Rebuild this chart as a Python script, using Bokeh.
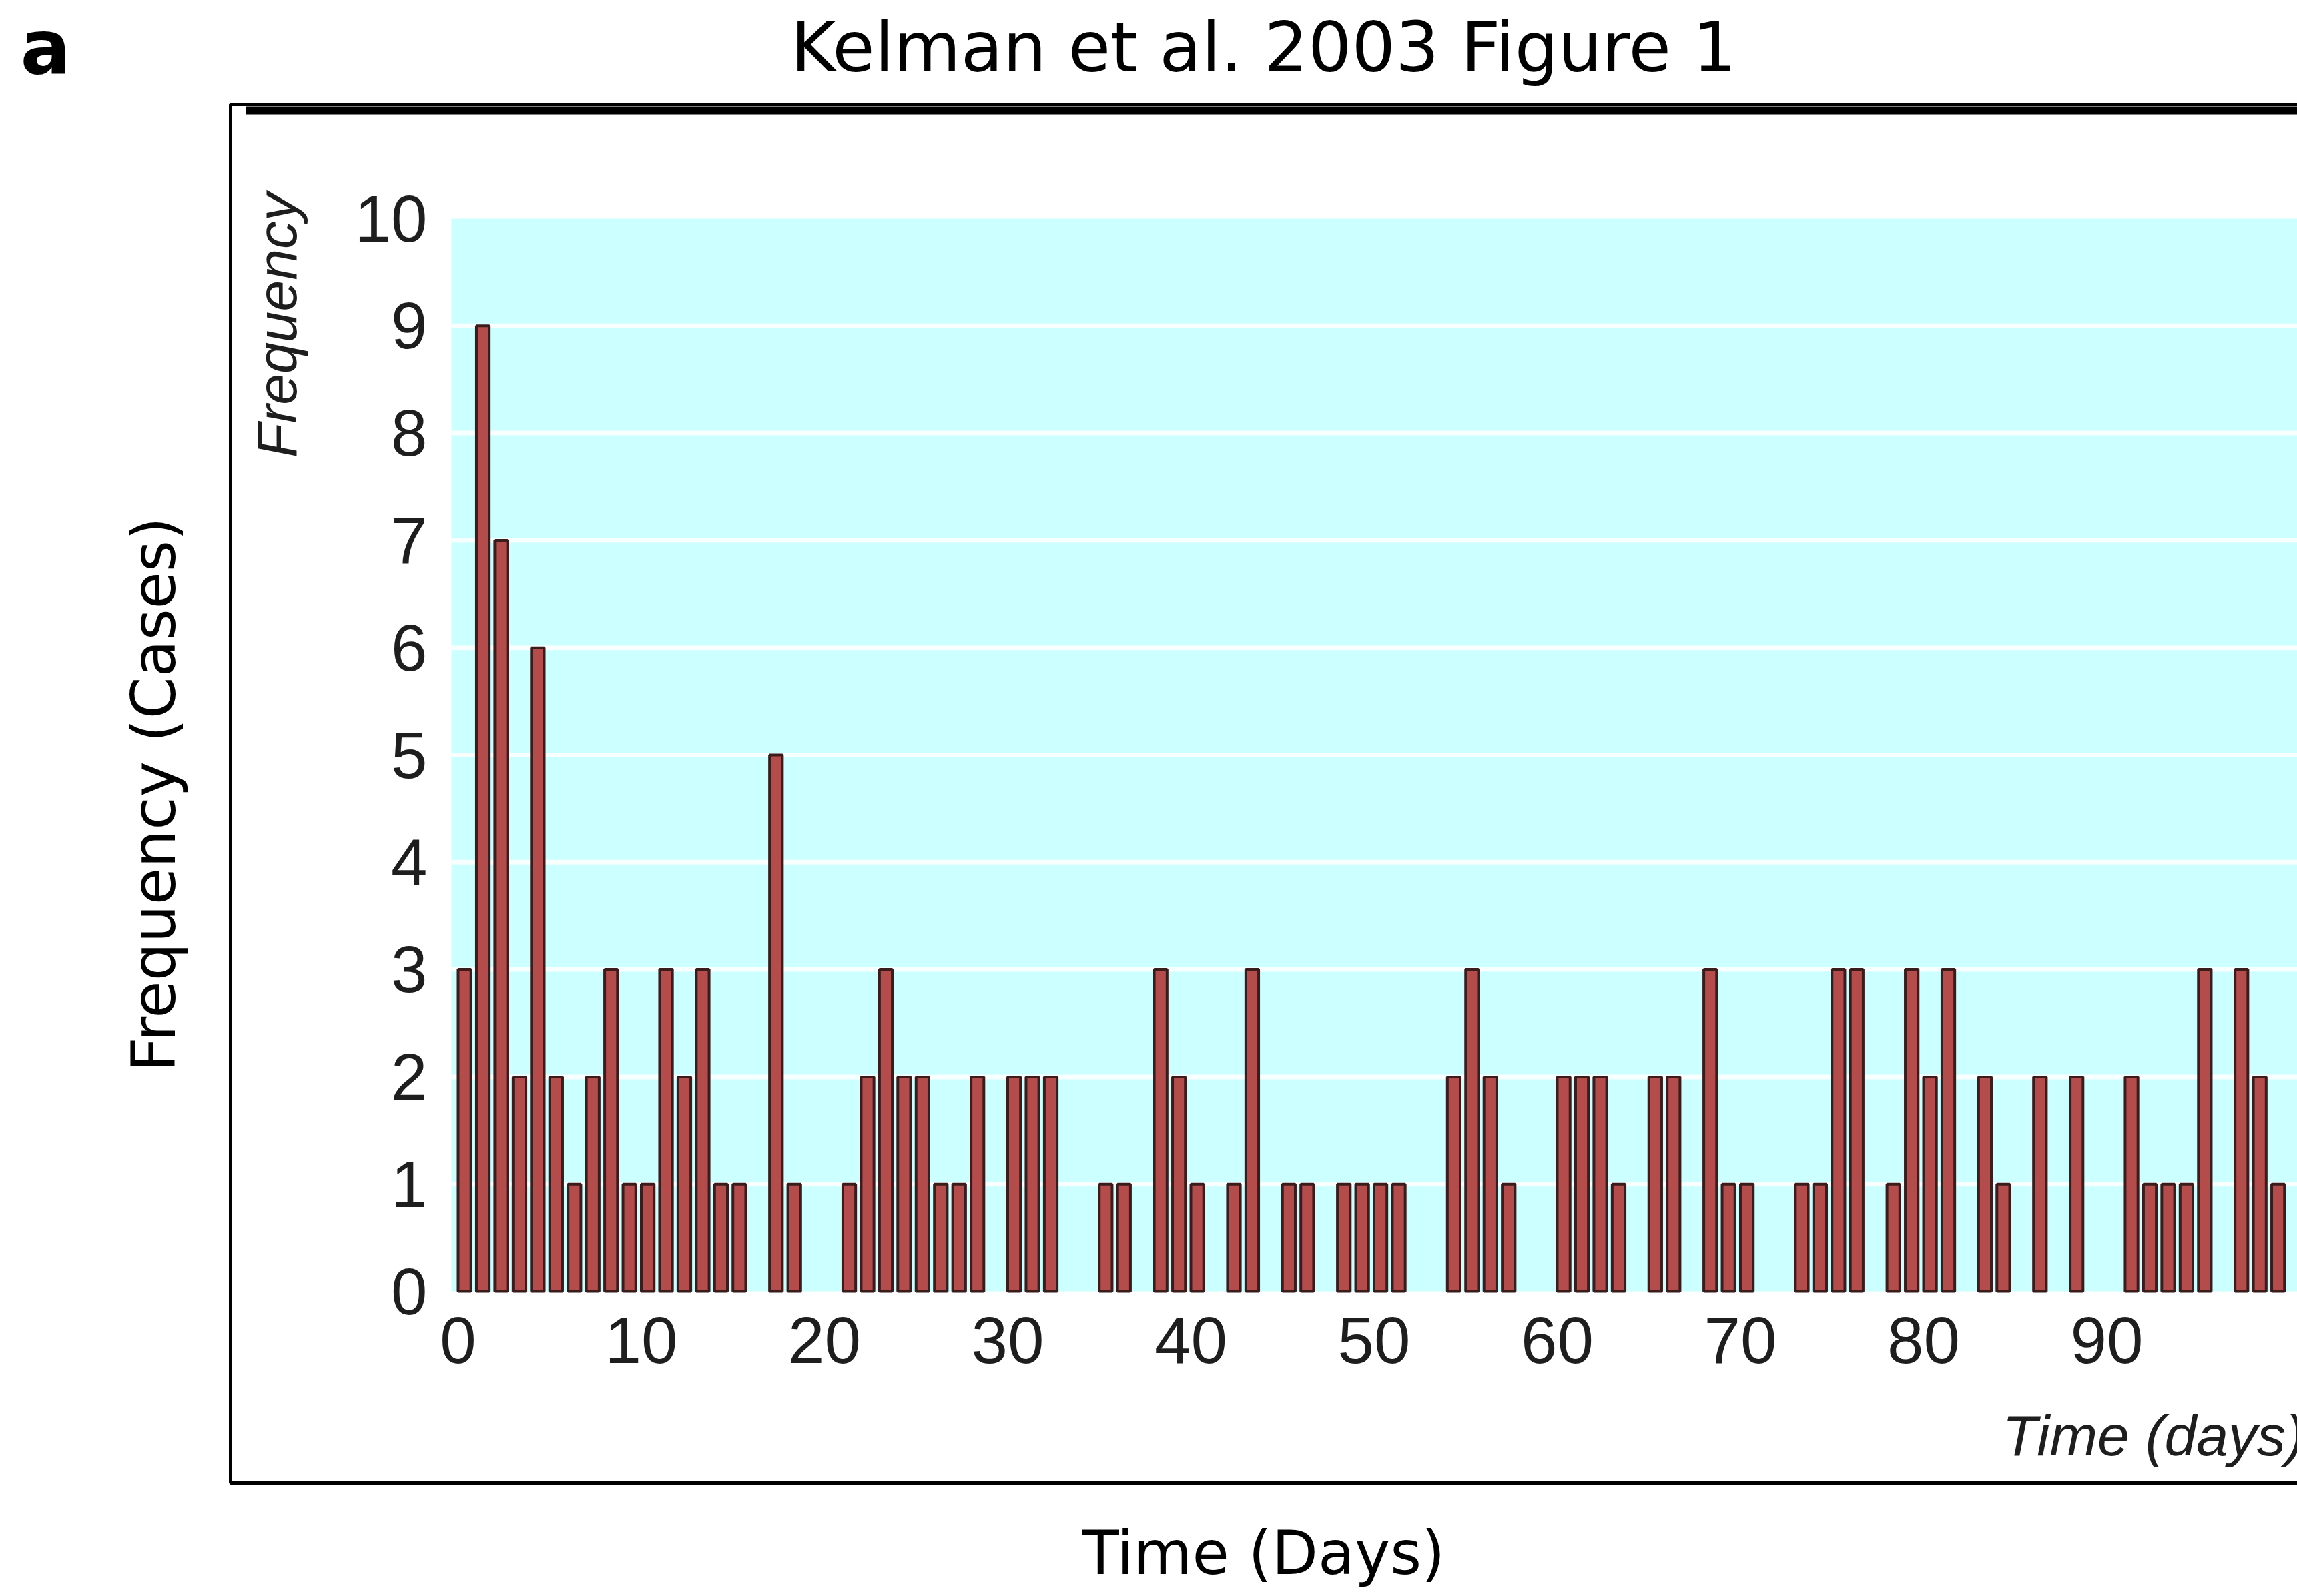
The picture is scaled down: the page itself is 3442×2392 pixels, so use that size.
from bokeh.plotting import figure
from bokeh.models import Range1d, ColumnDataSource
from bokeh.core.properties import value
from bokeh.embed import file_html
from bokeh.resources import INLINE
import math

# ---- data ----
days = list(range(100))
counts = [3, 9, 7, 2, 6, 2, 1, 2, 3, 1,
          1, 3, 2, 3, 1, 1, 0, 5, 1, 0,
          0, 1, 2, 3, 2, 2, 1, 1, 2, 0,
          2, 2, 2, 0, 0, 1, 1, 0, 3, 2,
          1, 0, 1, 3, 0, 1, 1, 0, 1, 1,
          1, 1, 0, 0, 2, 3, 2, 1, 0, 0,
          2, 2, 2, 1, 0, 2, 2, 0, 3, 1,
          1, 0, 0, 1, 1, 3, 3, 0, 1, 3,
          2, 3, 0, 2, 1, 0, 2, 0, 2, 0,
          0, 2, 1, 1, 1, 3, 0, 3, 2, 1]
x_ticks = [0, 10, 20, 30, 40, 50, 60, 70, 80, 90]
y_ticks = [0, 1, 2, 3, 4, 5, 6, 7, 8, 9, 10]

title_text = "Kelman et al. 2003 Figure 1"
panel_letter = "a"
outer_xlabel = "Time (Days)"
outer_ylabel = "Frequency (Cases)"
inner_xlabel = "Time (days)"
inner_ylabel = "Frequency"

# ---- layout (page pixels -> data space of the scanned chart) ----
W, H = 3442, 2392
X0_PX, PX_PER_DAY = 686.0, 27.45     # page x of day 0, pixels per day
Y0_PX, PX_PER_UNIT = 1935.0, 160.8   # page y of count 0, pixels per count


def dx(px):
    return (px - X0_PX) / PX_PER_DAY


def dy(py):
    return (Y0_PX - py) / PX_PER_UNIT


BAR_W = 0.7
SANS = "Liberation Sans"
INK = "#1e1e1e"

p = figure(width=W, height=H,
           x_range=Range1d(dx(0), dx(W)),
           y_range=Range1d(dy(H), dy(0)),
           output_backend="svg", toolbar_location=None, title=None,
           x_axis_location=None, y_axis_location=None,
           min_border=0)
p.grid.visible = False
p.outline_line_color = None
p.background_fill_color = "white"
p.border_fill_color = "white"

# outer frame of the scanned image and its thick top rule
p.line(x=[dx(3600), dx(345), dx(345), dx(3600)],
       y=[dy(156), dy(156), dy(2222), dy(2222)],
       line_color="black", line_width=5)
p.quad(left=dx(368), right=dx(3600), top=dy(159), bottom=dy(171),
       fill_color="black", line_color=None)

# shaded plotting area of the scanned chart
p.quad(left=dx(676), right=dx(3600), bottom=0, top=10,
       fill_color="#ccffff", line_color=None)

# white horizontal grid lines
grid_y = [t for t in y_ticks if 0 < t < 10]
p.segment(x0=[dx(676)] * len(grid_y), x1=[dx(3600)] * len(grid_y),
          y0=grid_y, y1=grid_y, line_color="white", line_width=7, line_alpha=0.85)

# bars
nz = [(d, c) for d, c in zip(days, counts) if c > 0]
src = ColumnDataSource(dict(
    x=[d + BAR_W / 2 for d, _ in nz],
    top=[c for _, c in nz],
))
p.vbar(x="x", top="top", bottom=0, width=BAR_W, source=src,
       fill_color="#b44c4c", line_color="#3a1c1c", line_width=4)

# tick labels of the scanned chart
p.text(x=[dx(640)] * len(y_ticks), y=y_ticks, text=[str(t) for t in y_ticks],
       text_align="right", text_baseline="middle",
       text_font=value(SANS), text_font_size="98px", text_color=INK)
p.text(x=x_ticks, y=[dy(2008)] * len(x_ticks), text=[str(t) for t in x_ticks],
       text_align="center", text_baseline="middle",
       text_font=value(SANS), text_font_size="98px", text_color=INK)

# inner (scanned) axis labels
p.text(x=[dx(414)], y=[dy(487)], text=[inner_ylabel], angle=math.pi / 2,
       text_align="center", text_baseline="middle",
       text_font=value(SANS), text_font_style="italic",
       text_font_size="84px", text_color=INK)
p.text(x=[dx(3000)], y=[dy(2150)], text=[inner_xlabel],
       text_align="left", text_baseline="middle",
       text_font=value(SANS), text_font_style="italic",
       text_font_size="86px", text_color=INK)

# outer figure texts
p.text(x=[dx(1893)], y=[dy(70)], text=[title_text],
       text_align="center", text_baseline="middle",
       text_font=value("DejaVu Sans"), text_font_size="103px", text_color="black")
p.text(x=[dx(30)], y=[dy(70)], text=[panel_letter],
       text_align="left", text_baseline="middle",
       text_font=value("DejaVu Sans"), text_font_style="bold",
       text_font_size="112px", text_color="black")
p.text(x=[dx(1893)], y=[dy(2327)], text=[outer_xlabel],
       text_align="center", text_baseline="middle",
       text_font=value("DejaVu Sans"), text_font_size="90px", text_color="black")
p.text(x=[dx(230)], y=[dy(1190)], text=[outer_ylabel], angle=math.pi / 2,
       text_align="center", text_baseline="middle",
       text_font=value("DejaVu Sans"), text_font_size="90px", text_color="black")

open("out.html", "w").write(file_html(p, INLINE))
